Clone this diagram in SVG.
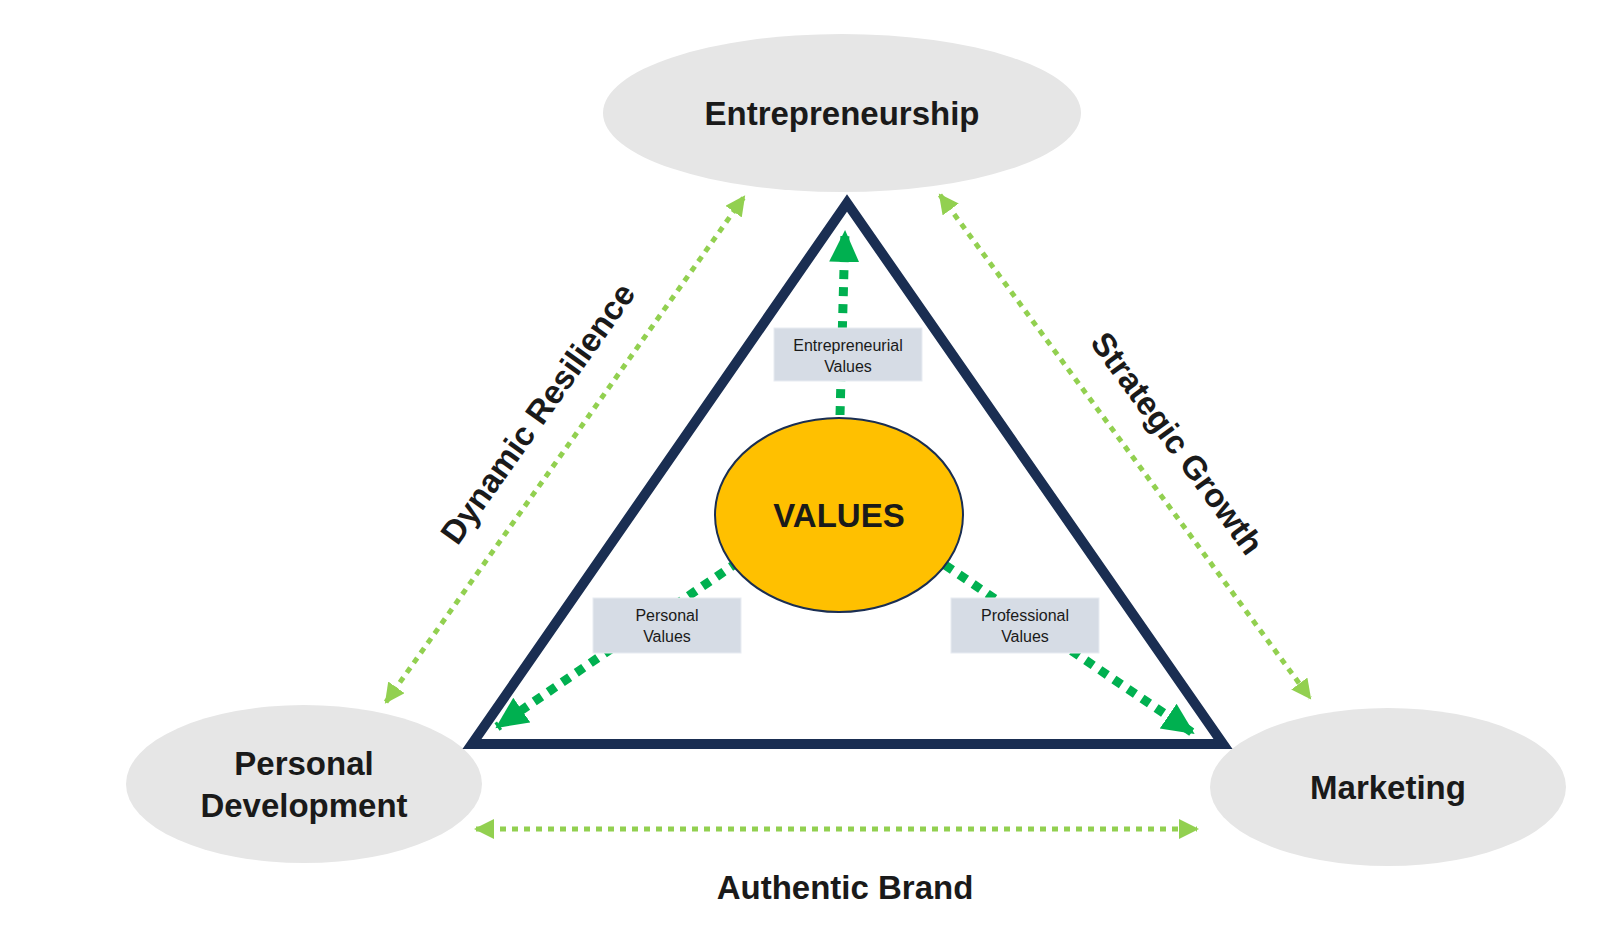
<svg xmlns="http://www.w3.org/2000/svg" width="1600" height="948" viewBox="0 0 1600 948">
<style>
.node{fill:#e6e6e6}
.big{font-family:"Liberation Sans",Arial,sans-serif;font-weight:bold;font-size:33px;fill:#1a1a1a;text-anchor:middle}
.small{font-family:"Liberation Sans",Arial,sans-serif;font-size:16px;fill:#1a1a1a;text-anchor:middle}
.box{fill:#d6dce5;stroke:#e8ecf2;stroke-width:1}
.dg{stroke:#00b050;stroke-width:9;stroke-dasharray:9 8;fill:none}
.lg{stroke:#92d050;stroke-width:5;stroke-dasharray:6 6;fill:none}
</style>
<defs>
<marker id="ah" markerUnits="userSpaceOnUse" markerWidth="34" markerHeight="34" refX="30" refY="15" orient="auto"><path d="M0,0 L32,15 L0,30 Z" fill="#00b050"/></marker>
<marker id="la" markerUnits="userSpaceOnUse" markerWidth="22" markerHeight="22" refX="18" refY="10" orient="auto-start-reverse"><path d="M0,0 L20,10 L0,20 Z" fill="#92d050"/></marker>
</defs>
<rect width="1600" height="948" fill="#fff"/>
<g id="entrepreneurship"><ellipse class="node" cx="842" cy="113" rx="239" ry="79"/><text class="big" x="842" y="125">Entrepreneurship</text></g>
<g id="personal-development"><ellipse class="node" cx="304" cy="784" rx="178" ry="79"/><text class="big" x="304" y="775">Personal</text><text class="big" x="304" y="817">Development</text></g>
<g id="marketing"><ellipse class="node" cx="1388" cy="787" rx="178" ry="79"/><text class="big" x="1388" y="799">Marketing</text></g>
<g id="triangle"><polygon points="847,203 472,744 1223,744" fill="none" stroke="#1a2e52" stroke-width="10" stroke-linejoin="miter"/></g>
<g id="connectors">
<line class="dg" x1="840" y1="415" x2="845" y2="232" marker-end="url(#ah)"/>
<line class="dg" x1="738" y1="562" x2="497" y2="727" marker-end="url(#ah)"/>
<line class="dg" x1="945" y1="565" x2="1193" y2="733" marker-end="url(#ah)"/>
<line class="lg" x1="386" y1="702" x2="744" y2="197" marker-start="url(#la)" marker-end="url(#la)"/>
<line class="lg" x1="940" y1="195" x2="1310" y2="698" marker-start="url(#la)" marker-end="url(#la)"/>
<line class="lg" x1="476" y1="829" x2="1197" y2="829" marker-start="url(#la)" marker-end="url(#la)"/>
</g>
<g id="values"><ellipse cx="839" cy="515" rx="124" ry="97" fill="#ffc000" stroke="#1a2e52" stroke-width="2"/><text class="big" x="839" y="527">VALUES</text></g>
<g id="entrepreneurial-values"><rect class="box" x="774" y="328" width="148" height="53"/><text class="small" x="848" y="351">Entrepreneurial</text><text class="small" x="848" y="372">Values</text></g>
<g id="personal-values"><rect class="box" x="593" y="598" width="148" height="55"/><text class="small" x="667" y="621">Personal</text><text class="small" x="667" y="642">Values</text></g>
<g id="professional-values"><rect class="box" x="951" y="598" width="148" height="55"/><text class="small" x="1025" y="621">Professional</text><text class="small" x="1025" y="642">Values</text></g>
<g id="edge-labels">
<text class="big" transform="translate(547,420) rotate(-54.7)">Dynamic Resilience</text>
<text class="big" transform="translate(1168,450) rotate(53.7)">Strategic Growth</text>
<text class="big" x="845" y="899">Authentic Brand</text>
</g>
</svg>
